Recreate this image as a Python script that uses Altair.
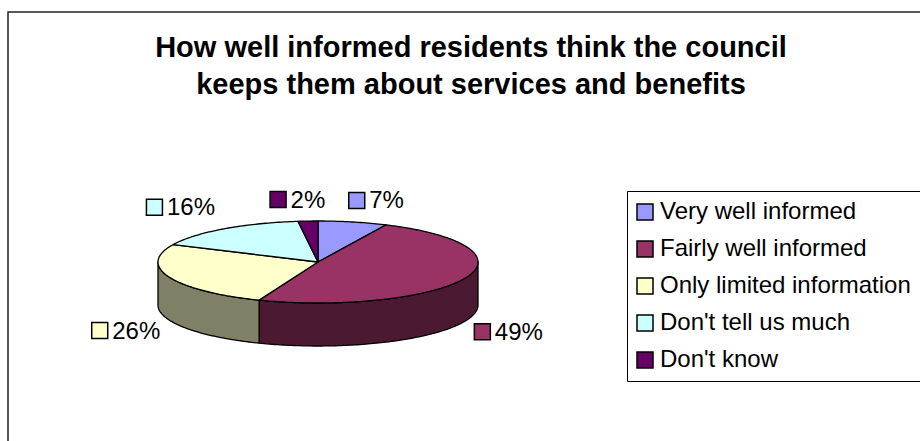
import altair as alt
import numpy as np
import pandas as pd

# ---- data ----
categories = ["Very well informed", "Fairly well informed", "Only limited information",
              "Don't tell us much", "Don't know"]
percents = [7, 49, 26, 16, 2]
top_colors = ["#9999FF", "#993366", "#FFFFCC", "#CCFFFF", "#660066"]
side_colors = ["#4C4C80", "#4C1933", "#808066", "#668080", "#330033"]
title_lines = ["How well informed residents think the council",
               "keeps them about services and benefits"]

# ---- geometry (style constants) ----
CX, CY, RX, RY, DEPTH = 318.0, 262.0, 160.0, 41.0, 43.0
FONT = "Liberation Sans"
LABEL_FS = 24


def pt(t_deg, dy=0.0):
    t = np.radians(t_deg)
    return [float(CX + RX * np.sin(t)), float(CY - RY * np.cos(t) + dy)]


def feature(ring, cat, col):
    return {"type": "Feature",
            "properties": {"cat": cat, "col": col},
            "geometry": {"type": "Polygon", "coordinates": [ring]}}


total = float(sum(percents))
cum = np.concatenate([[0.0], np.cumsum(percents)]) / total * 360.0

tops, sides, label_rows = [], [], []
for i, cat in enumerate(categories):
    a, b = float(cum[i]), float(cum[i + 1])
    n = max(4, int(np.ceil(b - a)))
    angles = np.linspace(a, b, n + 1)
    ring = [[CX, CY]] + [pt(t) for t in angles] + [[CX, CY]]
    tops.append(feature(ring, cat, top_colors[i]))
    lo, hi = max(a, 90.0), min(b, 270.0)
    if hi > lo:
        ang = np.linspace(lo, hi, max(4, int(np.ceil(hi - lo))) + 1)
        sring = [pt(t) for t in ang] + [pt(t, DEPTH) for t in ang[::-1]]
        sring.append(sring[0])
        sides.append(feature(sring, cat, side_colors[i]))
    # label placement
    mid = (a + b) / 2.0
    s, c = np.sin(np.radians(mid)), np.cos(np.radians(mid))
    px, py = pt(mid)
    txt = f"{percents[i]}%"
    textw = LABEL_FS * (0.556 * (len(txt) - 1) + 0.889)
    w = 17 + 4 + textw
    ly = py - 21.5 if c >= 0 else py + DEPTH + 10.5
    if abs(s) > 0.4:
        left = px + 9 if s > 0 else px - 9 - w
    else:
        left = px + 120 * s - 3 - w / 2
    label_rows.append({"txt": txt, "col": top_colors[i],
                       "mx": float(left + 8.5), "my": float(ly),
                       "tx": float(left + 21), "ty": float(ly + 8)})

labels = pd.DataFrame(label_rows)
titles = pd.DataFrame({"line": title_lines,
                       "x": [471.0] * len(title_lines),
                       "y": [57.0 + 37.0 * k for k in range(len(title_lines))]})

frame = [feature([[8, 12], [960, 12], [960, 480], [8, 480], [8, 12]], "frame", "none")]

PROJ = dict(type="identity", scale=1, translate=[0, 0], reflectY=False)

frame_layer = alt.Chart(alt.Data(values=frame)).mark_geoshape(
    fill="white", stroke="#222222", strokeWidth=1.5
).project(**PROJ)

side_layer = alt.Chart(alt.Data(values=sides)).mark_geoshape(
    stroke="black", strokeWidth=1.3, strokeJoin="round"
).encode(
    fill=alt.Fill("properties.col:N", scale=None)
).project(**PROJ)

top_layer = alt.Chart(alt.Data(values=tops)).mark_geoshape(
    stroke="black", strokeWidth=1.3, strokeJoin="round", opacity=1
).encode(
    color=alt.Color(
        "properties.cat:N",
        scale=alt.Scale(domain=categories, range=top_colors),
        legend=alt.Legend(
            orient="none", legendX=627, legendY=191, title=None,
            symbolType="square", symbolSize=256, symbolStrokeColor="black",
            symbolStrokeWidth=1.5, symbolOpacity=1, symbolOffset=-3,
            labelFont=FONT, labelFontSize=LABEL_FS, labelColor="black",
            labelLimit=400, labelOffset=3, rowPadding=13, padding=9,
            strokeColor="black", fillColor="white", cornerRadius=0,
        ),
    )
).project(**PROJ)

marker_layer = alt.Chart(labels).mark_square(
    size=256, stroke="black", strokeWidth=1.5, opacity=1
).encode(
    longitude="mx:Q", latitude="my:Q",
    fill=alt.Fill("col:N", scale=None),
).project(**PROJ)

text_layer = alt.Chart(labels).mark_text(
    font=FONT, fontSize=LABEL_FS, align="left", baseline="alphabetic", color="black"
).encode(
    longitude="tx:Q", latitude="ty:Q", text="txt:N"
).project(**PROJ)

title_layer = alt.Chart(titles).mark_text(
    font=FONT, fontSize=29, fontWeight="bold", align="center",
    baseline="alphabetic", color="black"
).encode(
    longitude="x:Q", latitude="y:Q", text="line:N"
).project(**PROJ)

chart = alt.layer(
    frame_layer, side_layer, top_layer, marker_layer, text_layer, title_layer
).properties(
    width=920, height=441, padding=0,
    autosize=alt.AutoSizeParams(type="none"),
    background="white",
).configure_view(stroke=None)

chart.save("out.html", embed_options={"renderer": "svg", "actions": False})
